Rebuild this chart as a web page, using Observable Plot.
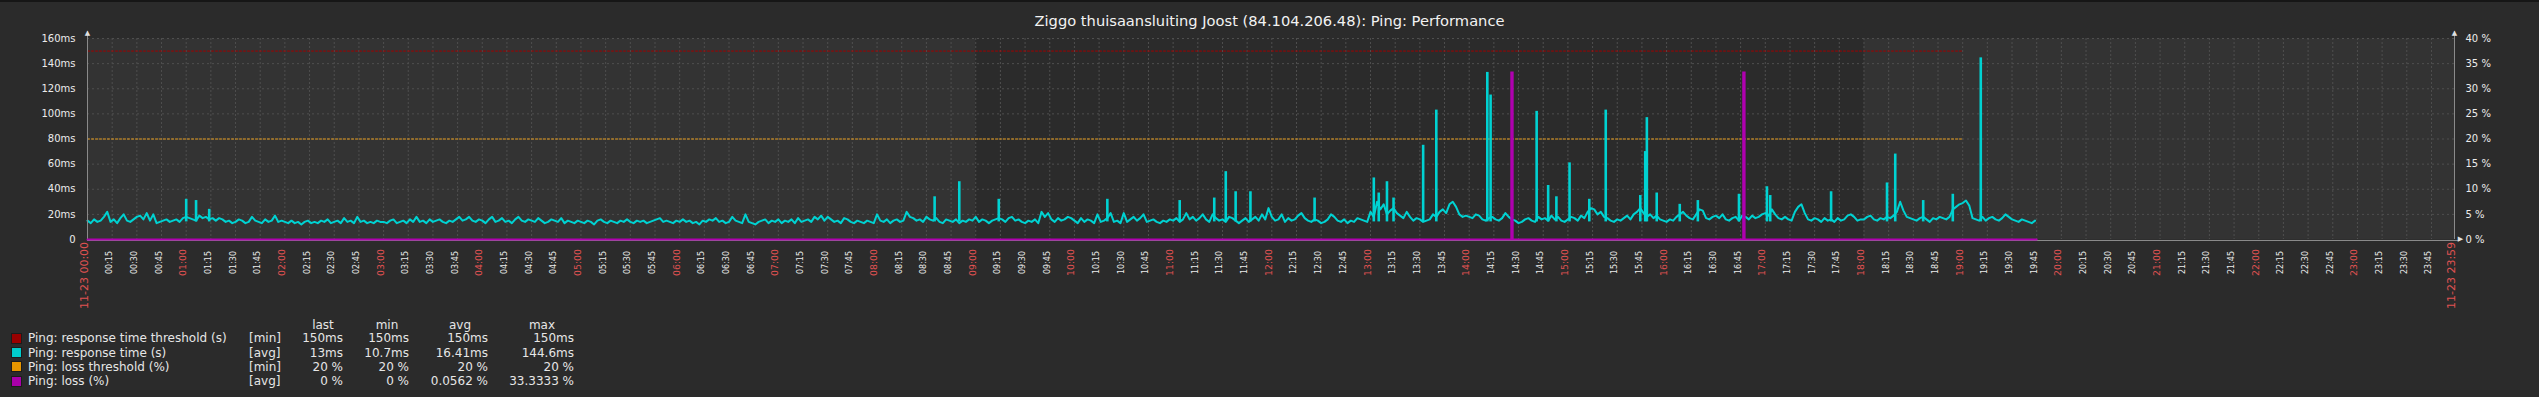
<!DOCTYPE html>
<html><head><meta charset="utf-8">
<script src="https://cdn.jsdelivr.net/npm/d3@7"></script>
<script src="https://cdn.jsdelivr.net/npm/@observablehq/plot@0.6"></script>
<style>
html,body{margin:0;padding:0;background:#2b2b2b;overflow:hidden;}
#wrap{position:relative;width:2539px;height:397px;overflow:hidden;background:#2b2b2b;font-family:"DejaVu Sans",sans-serif;color:#ececec;}
#topbar{position:absolute;left:0;top:0;width:2539px;height:2px;background:#161616;}
#title{position:absolute;left:0;top:12px;width:2539px;text-align:center;font-size:14.67px;line-height:18px;color:#f2f2f2;}
#chart{position:absolute;left:0;top:24px;}
.lg{position:absolute;font-size:12px;line-height:14px;white-space:nowrap;color:#e6e6e6;}
.sq{position:absolute;width:9px;height:9px;border:1px solid #1c1c1c;}
</style></head><body>
<div id="wrap">
 <div id="topbar"></div>
 <div id="title">Ziggo thuisaansluiting Joost (84.104.206.48): Ping: Performance</div>
 <div id="chart"></div>
 <div id="legend"></div>
</div>
<script>
// ---------- data ----------
const day = "2023-11-23";
const responseStart = "00:00";
const responseStepMin = 2;
// response time (ms), one row per hour, values every 2 minutes
const responseMs = [
  15,13,16,14,15,18,22,14,16,13,17,20,15,14,16,18,19,16,21,15,20,13,14,15,16,14,15,16,14,17, // 00
  18,17,16,15,19,17,18,16,17,15,17,16,14,15,13,14,16,15,13,14,18,15,14,13,16,14,15,19,14,15, // 01
  14,13,15,13,14,12,14,15,13,14,13,15,14,16,13,14,15,13,17,14,15,13,18,14,15,13,14,13,15,14, // 02
  14,13,15,16,13,14,15,13,16,14,18,14,15,13,16,14,15,16,14,13,15,14,16,18,15,16,18,15,14,16, // 03
  15,13,16,18,14,15,17,14,15,13,16,18,15,14,16,15,14,17,15,13,14,16,15,14,17,13,15,14,13,15, // 04
  14,13,15,14,12,15,16,14,13,15,14,13,15,14,16,14,13,15,14,15,13,14,15,16,17,14,15,14,13,15, // 05
  14,16,14,15,13,14,12,15,14,16,15,17,14,15,13,14,18,15,14,13,20,14,13,12,14,15,16,13,15,14, // 06
  16,13,15,14,16,13,17,14,15,16,14,18,16,19,15,18,16,14,15,13,17,16,14,13,15,14,13,15,14,13, // 07
  20,15,14,16,13,15,16,14,15,22,18,17,15,16,14,18,16,15,17,14,13,16,15,14,16,13,15,14,16,15, // 08
  18,14,16,15,13,15,16,17,16,14,17,18,15,16,14,13,15,14,16,13,22,18,21,16,14,17,15,16,18,17, // 09
  15,13,17,14,16,15,13,20,14,15,17,21,14,15,13,21,14,16,18,15,17,20,14,15,16,14,13,15,14,16, // 10
  15,17,14,16,21,16,18,15,17,20,16,14,20,17,15,16,14,18,17,15,13,15,17,14,16,18,15,20,16,25, // 11
  18,15,16,20,14,17,15,16,19,21,17,15,14,16,15,13,14,16,20,18,15,14,16,13,15,14,17,16,15,14, // 12
  22,18,30,24,28,20,23,25,21,19,17,22,18,15,17,16,14,15,16,20,18,22,24,21,28,30,26,20,18,19, // 13
  18,17,20,19,16,15,17,18,16,15,17,21,18,16,15,13,14,16,17,15,14,18,16,17,15,19,16,18,15,14, // 14
  16,18,17,15,19,17,22,25,24,20,22,18,17,15,14,16,15,17,19,16,20,22,25,21,18,20,17,19,16,15, // 15
  14,16,15,18,20,22,19,17,16,20,24,23,17,16,18,19,17,20,16,15,17,18,15,19,18,16,19,17,18,20, // 16
  21,19,24,20,17,16,18,16,15,22,26,28,21,16,15,17,16,14,17,15,16,14,17,15,16,19,20,18,15,16, // 17
  16,18,19,16,15,17,16,18,17,19,22,30,23,18,17,16,15,17,18,16,14,17,16,18,17,16,18,24,26,28, // 18
  29,31,27,17,16,15,18,15,17,18,16,15,17,20,18,16,15,14,16,15,14,13,15                      // 19
];
// short single-sample spikes of the response time
const spikeTimes = ["01:00","01:06","01:14","08:35","08:50","09:14","10:20","11:04","11:25","11:32","11:38","11:47","12:26",
  "13:02","13:05","13:10","13:14","13:32","13:40","14:11","14:13","14:41","14:48","14:53",
  "15:01","15:13","15:23","15:44","15:47","15:48","15:54","16:08","16:19","16:44",
  "17:01","17:03","17:40","18:14","18:19","18:36","18:54","19:11"];
const spikeMs = [32,31,24,34,46,32,32,31,33,54,38,38,33,
  49,37,46,33,75,103,133,115,102,43,34,
  61,32,103,35,70,97,37,28,31,36,
  42,35,38,45,68,31,36,144.6];
const spikeBaseMs = 14;
// packet loss (%)
const lossTimes = ["00:00","19:45"];
const lossPct = [0,0];
const lossSpikeTimes = ["14:26","16:47"];
const lossSpikePct = [33.3333,33.3333];
// thresholds
const thresholdTimes = ["00:00","19:00"];
const responseThresholdMs = 150;
const lossThresholdPct = 20;
// work period
const workFrom = "09:00", workTo = "18:00";
// axes
const leftTicks = [0,20,40,60,80,100,120,140,160];
const rightTicks = [0,5,10,15,20,25,30,35,40];
const startLabel = "11-23 00:00", endLabel = "11-23 23:59";
// legend
const legendNames = ["Ping: response time threshold (s)","Ping: response time (s)","Ping: loss threshold (%)","Ping: loss (%)"];
const legendFuncs = ["[min]","[avg]","[min]","[avg]"];
const legendLast = ["150ms","13ms","20 %","0 %"];
const legendMin  = ["150ms","10.7ms","20 %","0 %"];
const legendAvg  = ["150ms","16.41ms","20 %","0.0562 %"];
const legendMax  = ["150ms","144.6ms","20 %","33.3333 %"];
const legendColors = ["#990000","#00cccc","#e69500","#aa00aa"];
const legendHeaders = ["last","min","avg","max"];

// ---------- build ----------
const T = s => new Date(`${day}T${s}:00Z`);
const start = T("00:00"), end = T("23:59");
const t0 = +T(responseStart);
const resp = responseMs.map((v,i) => ({t: new Date(t0 + i*responseStepMin*60000), v}));
const spikes = spikeTimes.map((s,i) => ({t: T(s), v: spikeMs[i]}));
const msPerPct = 160/40;
const loss = lossTimes.map((s,i) => ({t: T(s), v: lossPct[i]*msPerPct}));
const lossSpikes = lossSpikeTimes.map((s,i) => ({t: T(s), v: lossSpikePct[i]*msPerPct}));
const respThr = thresholdTimes.map(s => ({t: T(s), v: responseThresholdMs}));
const lossThr = thresholdTimes.map(s => ({t: T(s), v: lossThresholdPct*msPerPct}));
const work = [{from: T(workFrom), to: T(workTo)}];
const grid = d3.utcMinute.every(15).range(start, end).filter(d => +d > +start);
const majors = grid.filter(d => d.getUTCMinutes() === 0);
const minors = grid.filter(d => d.getUTCMinutes() !== 0);
const fmt = d3.utcFormat("%H:%M");
const RED = "#e05252";

const chart = Plot.plot({
  width: 2539, height: 296,
  marginLeft: 87, marginRight: 85, marginTop: 14, marginBottom: 81,
  style: {background: "transparent", fontFamily: "DejaVu Sans", fontSize: "10px", color: "#ececec", overflow: "visible"},
  x: {type: "utc", domain: [start, end], axis: null},
  y: {domain: [0, 160], axis: null},
  marks: [
    Plot.frame({fill: "#333333", stroke: null}),
    Plot.rect(work, {x1: "from", x2: "to", fill: "#2b2b2b"}),
    Plot.ruleY(leftTicks.filter(d => d > 0), {stroke: "#4f4f4f", strokeDasharray: "2,3"}),
    Plot.ruleX(grid, {stroke: "#4f4f4f", strokeDasharray: "2,2"}),
    Plot.line(respThr, {x: "t", y: "v", stroke: "#a00000", strokeDasharray: "2,2", strokeWidth: 1}),
    Plot.line(lossThr, {x: "t", y: "v", stroke: "#eba020", strokeDasharray: "2,2", strokeWidth: 1}),
    Plot.ruleX(spikes, {x: "t", y1: spikeBaseMs, y2: "v", stroke: "#00d2d2", strokeWidth: 2.6}),
    Plot.line(resp, {x: "t", y: "v", stroke: "#00d2d2", strokeWidth: 2}),
    Plot.ruleX([start, end], {stroke: "#8a8a8a", insetTop: -7}),
    Plot.ruleY([0], {stroke: "#8a8a8a", dy: 1, insetRight: -5}),
    Plot.line(loss, {x: "t", y: "v", stroke: "#b000b0", strokeWidth: 2}),
    Plot.ruleX(lossSpikes, {x: "t", y1: 0, y2: "v", stroke: "#b000b0", strokeWidth: 3.4}),
    Plot.text([start, end], {x: d => d, frameAnchor: "top", text: () => "▲", dy: -8, fontSize: 7, fill: "#e0e0e0"}),
    Plot.text([end], {x: d => d, frameAnchor: "bottom", text: () => "▶", dx: 6, dy: 1, fontSize: 7, fill: "#e0e0e0"}),
    Plot.axisY({ticks: leftTicks, anchor: "left", label: null, tickSize: 0, tickPadding: 12, fontSize: 10,
      tickFormat: d => d === 0 ? "0" : d + "ms"}),
    Plot.axisY({ticks: rightTicks.map(p => p*msPerPct), anchor: "right", label: null, tickSize: 0, tickPadding: 11, fontSize: 10,
      tickFormat: d => (d/msPerPct) + " %"}),
    Plot.text(minors, {x: d => d, text: d => fmt(d), frameAnchor: "bottom", dy: 23, rotate: -90, textAnchor: "middle", fontSize: 8, fill: "#ececec"}),
    Plot.text(majors, {x: d => d, text: d => fmt(d), frameAnchor: "bottom", dy: 23, rotate: -90, textAnchor: "middle", fontSize: 9.3, fill: RED}),
    Plot.text([start, end], {x: d => d, text: (d, i) => i === 0 ? startLabel : endLabel, frameAnchor: "bottom", dy: 36, rotate: -90, textAnchor: "middle", fontSize: 11, fill: RED})
  ]
});
document.getElementById("chart").appendChild(chart);

// legend (HTML, below the chart)
const lg = document.getElementById("legend");
function add(txt, css) { const d = document.createElement("div"); d.className = "lg"; d.textContent = txt; Object.assign(d.style, css); lg.appendChild(d); return d; }
const headerCenters = [323, 387, 460, 542];
const colRights = [343, 409, 488, 574];
legendHeaders.forEach((h, j) => add(h, {left: (headerCenters[j]-40)+"px", width: "80px", textAlign: "center", top: (325-7)+"px"}));
legendNames.forEach((name, i) => {
  const cy = 338.3 + i*14.25;
  const sq = document.createElement("div"); sq.className = "sq";
  Object.assign(sq.style, {left: "11px", top: (cy-5.5)+"px", background: legendColors[i]});
  lg.appendChild(sq);
  add(name, {left: "28px", top: (cy-7)+"px"});
  add(legendFuncs[i], {left: "249px", top: (cy-7)+"px"});
  [legendLast, legendMin, legendAvg, legendMax].forEach((col, j) =>
    add(col[i], {left: (colRights[j]-100)+"px", width: "100px", textAlign: "right", top: (cy-7)+"px"}));
});
</script>
</body></html>
